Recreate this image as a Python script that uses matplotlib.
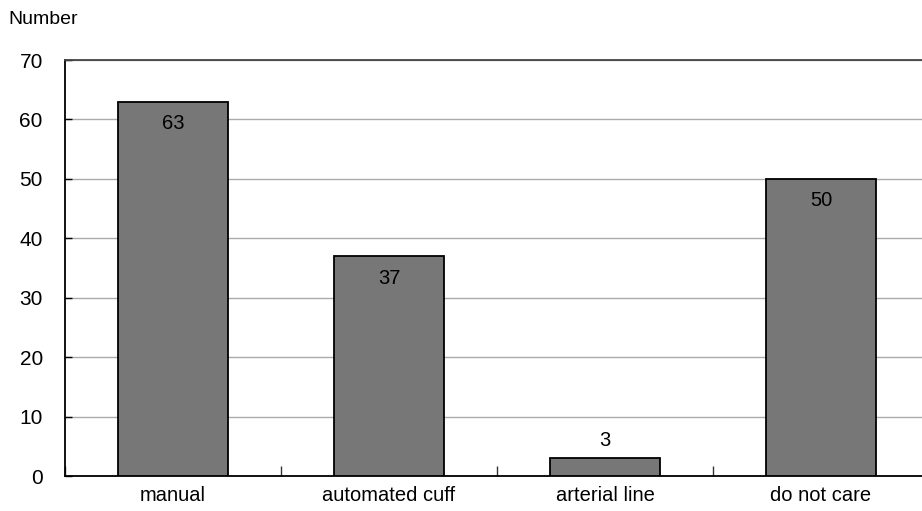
import matplotlib
matplotlib.use("Agg")
from matplotlib import pyplot as plt

categories = ["manual", "automated cuff", "arterial line", "do not care"]
counts = [63, 37, 3, 50]
y_ticks = [0, 10, 20, 30, 40, 50, 60, 70]

plt.rcParams['font.family'] = ['Liberation Sans', 'DejaVu Sans']

fig = plt.figure(figsize=(9.22, 5.11), dpi=100)
ax = fig.add_axes([65 / 922, 1 - 476 / 511, 864 / 922, 416 / 511])

x = list(range(len(categories)))
ax.bar(x, counts, width=0.51, color="#777777", edgecolor="black", linewidth=1.3, zorder=3)

for xi, v in zip(x, counts):
    if v > 10:
        ax.annotate(str(v), (xi, v), xytext=(0, -9), textcoords="offset points",
                    ha="center", va="top", fontsize=14.5, zorder=4)
    else:
        ax.annotate(str(v), (xi, v), xytext=(0, 6), textcoords="offset points",
                    ha="center", va="bottom", fontsize=14.5, zorder=4)

ax.set_xlim(-0.5, len(categories) - 0.5)
ax.set_ylim(0, 70)
ax.set_yticks(y_ticks)
ax.set_yticklabels([str(t) for t in y_ticks], fontsize=15)
ax.grid(axis="y", color="#aaaaaa", linewidth=1.0, zorder=0)

# category names sit between the boundary ticks
ax.set_xticks([i + 0.5 for i in range(-1, len(categories))])
ax.set_xticklabels([])
ax.set_xticks(x, minor=True)
ax.set_xticklabels(categories, minor=True, fontsize=14.5)
ax.tick_params(axis="x", which="minor", length=0, pad=7)
ax.tick_params(axis="x", which="major", direction="in", length=7, width=1, color="#333333")
ax.tick_params(axis="y", direction="in", length=5, width=1, pad=16)
for lab in ax.get_yticklabels():
    lab.set_horizontalalignment("right")

for side in ["left", "bottom"]:
    ax.spines[side].set_color("black")
    ax.spines[side].set_linewidth(1.3)
ax.spines["top"].set_color("#444444")
ax.spines["top"].set_linewidth(1.3)
ax.spines["right"].set_color("#444444")

fig.text(8 / 922, 1 - 20 / 511, "Number", fontsize=14, ha="left", va="center")

fig.savefig("out.png", dpi=100)
